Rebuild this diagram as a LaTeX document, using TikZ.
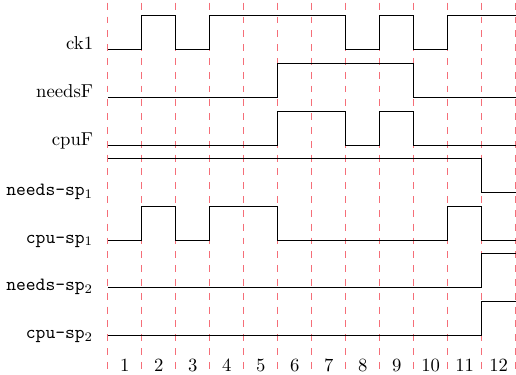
\documentclass[tikz,border=0pt]{standalone}
\usepackage{tikz}
\definecolor{edgepink}{RGB}{245,110,120}

\begin{document}
\begin{tikzpicture}[x=0.64cm,y=0.64cm,
    signal/.style={line width=0.5pt,line join=miter},
    tick/.style={edgepink,line width=0.6pt,dash pattern=on 3.7pt off 3.7pt},
    sig/.style={anchor=base east,inner sep=0}]
    \pgfmathsetmacro{\rowck}{9.56}
    \pgfmathsetmacro{\rowneedsF}{8.16}
    \pgfmathsetmacro{\rowcpuF}{6.76}
    \pgfmathsetmacro{\rowneedsA}{5.36}
    \pgfmathsetmacro{\rowcpuA}{3.96}
    \pgfmathsetmacro{\rowneedsB}{2.56}
    \pgfmathsetmacro{\rowcpuB}{1.16}
    \pgfmathsetmacro{\labelx}{-0.42}
    \useasboundingbox (-3.17,0) rectangle (12.01,11.03);
    % clock edges
    \foreach \t in {0,...,12}
        \draw[tick] (\t,10.95) -- (\t,0);
    % signal names
    \node[sig] (ck) at (\labelx,\rowck) {ck1};
    \node[sig] (needsF) at (\labelx,\rowneedsF) {needsF};
    \node[sig] (cpuF) at (\labelx,\rowcpuF) {cpuF};
    \node[sig] (needsA) at (\labelx,\rowneedsA-0.08) {\texttt{needs-sp}$_1$};
    \node[sig] (cpuA) at (\labelx,\rowcpuA-0.08) {\texttt{cpu-sp}$_1$};
    \node[sig] (needsB) at (\labelx,\rowneedsB-0.08) {\texttt{needs-sp}$_2$};
    \node[sig] (cpuB) at (\labelx,\rowcpuB-0.08) {\texttt{cpu-sp}$_2$};
    % waveforms
    \draw[signal,shift={(0,\rowck)}] (0,0) -- (1,0) -- (1,1) -- (2,1) -- (2,0) -- (3,0) -- (3,1) -- (7,1) -- (7,0) -- (8,0) -- (8,1) -- (9,1) -- (9,0) -- (10,0) -- (10,1) -- (12,1);
    \draw[signal,shift={(0,\rowneedsF)}] (0,0) -- (5,0) -- (5,1) -- (9,1) -- (9,0) -- (12,0);
    \draw[signal,shift={(0,\rowcpuF)}] (0,0) -- (5,0) -- (5,1) -- (7,1) -- (7,0) -- (8,0) -- (8,1) -- (9,1) -- (9,0) -- (12,0);
    \draw[signal,shift={(0,\rowneedsA)}] (0,1) -- (11,1) -- (11,0) -- (12,0);
    \draw[signal,shift={(0,\rowcpuA)}] (0,0) -- (1,0) -- (1,1) -- (2,1) -- (2,0) -- (3,0) -- (3,1) -- (5,1) -- (5,0) -- (10,0) -- (10,1) -- (11,1) -- (11,0) -- (12,0);
    \draw[signal,shift={(0,\rowneedsB)}] (0,0) -- (11,0) -- (11,1) -- (12,1);
    \draw[signal,shift={(0,\rowcpuB)}] (0,0) -- (11,0) -- (11,1) -- (12,1);
    % cycle numbers
    \foreach \n in {1,...,12}
        \node[inner sep=1pt] (cyc\n) at (\n-0.5,0.29) {\n};
\end{tikzpicture}
\end{document}
